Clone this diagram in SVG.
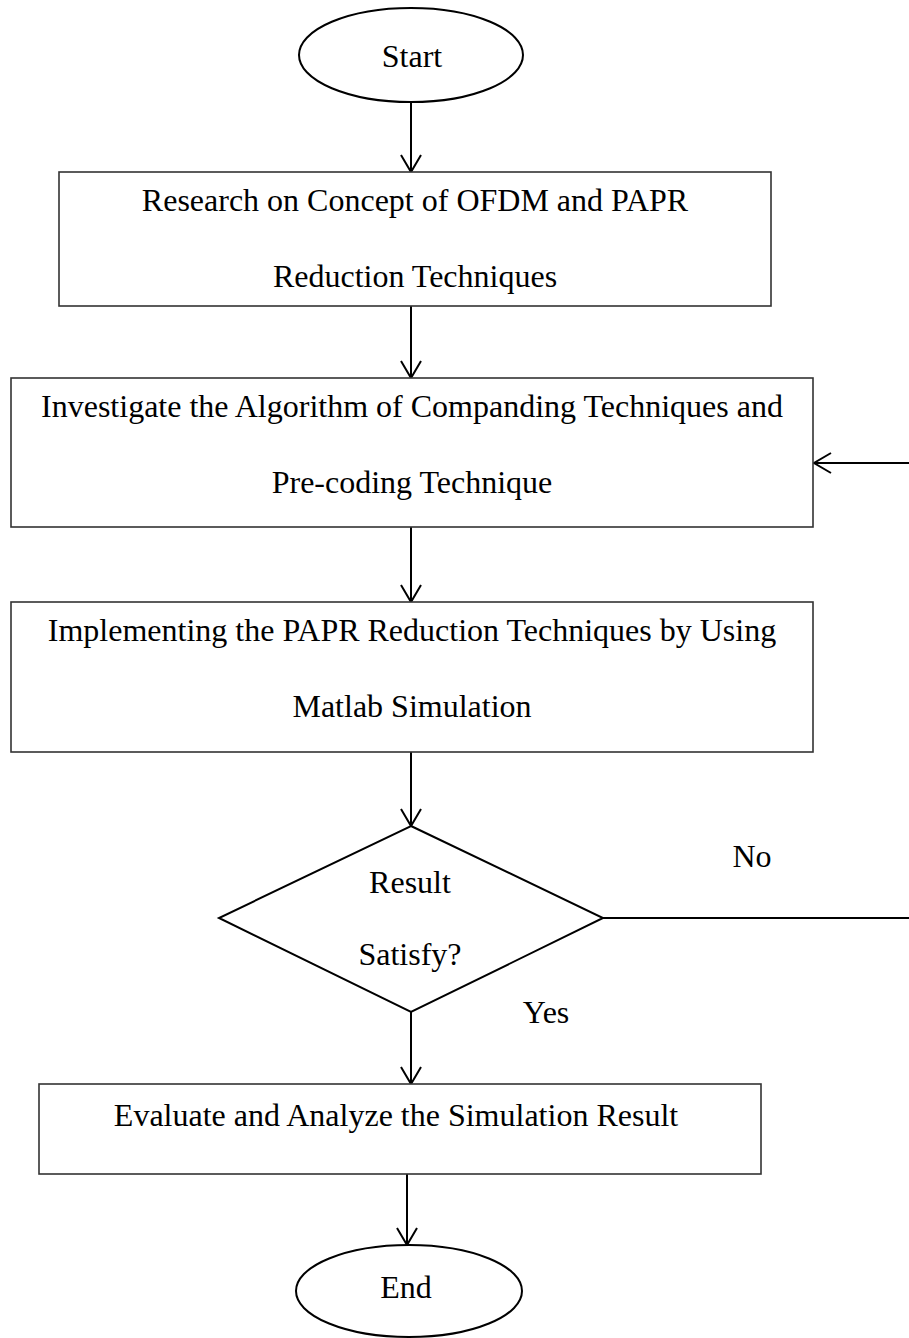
<svg xmlns="http://www.w3.org/2000/svg" width="909" height="1338" viewBox="0 0 909 1338">
<style>
.box{fill:#fff;stroke:#333;stroke-width:1.6}
.term{fill:#fff;stroke:#000;stroke-width:2}
.dec{fill:#fff;stroke:#000;stroke-width:2}
.t{font-family:"Liberation Serif","Times New Roman",serif;font-size:32px;fill:#000;text-anchor:middle}
.c{fill:none;stroke:#000;stroke-width:2}
</style>
<defs>
<marker id="arr" markerUnits="userSpaceOnUse" markerWidth="22" markerHeight="24" viewBox="0 0 22 24" refX="19" refY="12" orient="auto">
<path d="M2,2 L19,12 L2,22" fill="none" stroke="#000" stroke-width="2"/>
</marker>
</defs>
<rect width="909" height="1338" fill="#fff"/>
<g id="connectors">
<line class="c" x1="411" y1="102" x2="411" y2="172" marker-end="url(#arr)"/>
<line class="c" x1="411" y1="306" x2="411" y2="378" marker-end="url(#arr)"/>
<line class="c" x1="411" y1="527" x2="411" y2="602" marker-end="url(#arr)"/>
<line class="c" x1="411" y1="752" x2="411" y2="826" marker-end="url(#arr)"/>
<line class="c" x1="411" y1="1012" x2="411" y2="1084" marker-end="url(#arr)"/>
<line class="c" x1="407" y1="1174" x2="407" y2="1245" marker-end="url(#arr)"/>
<path class="c" d="M603,918 H912 V463 H814" marker-end="url(#arr)"/>
<text class="t" x="752" y="867">No</text>
<text class="t" x="546" y="1023">Yes</text>
</g>
<g id="start">
<ellipse class="term" cx="411" cy="55" rx="112" ry="47"/>
<text class="t" x="412" y="67">Start</text>
</g>
<g id="research">
<rect class="box" x="59" y="172" width="712" height="134"/>
<text class="t" x="415" y="211">Research on Concept of OFDM and PAPR</text>
<text class="t" x="415" y="287">Reduction Techniques</text>
</g>
<g id="investigate">
<rect class="box" x="11" y="378" width="802" height="149"/>
<text class="t" x="412" y="417">Investigate the Algorithm of Companding Techniques and</text>
<text class="t" x="412" y="493">Pre-coding Technique</text>
</g>
<g id="implement">
<rect class="box" x="11" y="602" width="802" height="150"/>
<text class="t" x="412" y="641">Implementing the PAPR Reduction Techniques by Using</text>
<text class="t" x="412" y="717">Matlab Simulation</text>
</g>
<g id="decision">
<polygon class="dec" points="411,826 603,918 411,1012 219,918"/>
<text class="t" x="410" y="893">Result</text>
<text class="t" x="410" y="965">Satisfy?</text>
</g>
<g id="evaluate">
<rect class="box" x="39" y="1084" width="722" height="90"/>
<text class="t" x="396" y="1126">Evaluate and Analyze the Simulation Result</text>
</g>
<g id="end">
<ellipse class="term" cx="409" cy="1291" rx="113" ry="46"/>
<text class="t" x="406" y="1298">End</text>
</g>
</svg>
